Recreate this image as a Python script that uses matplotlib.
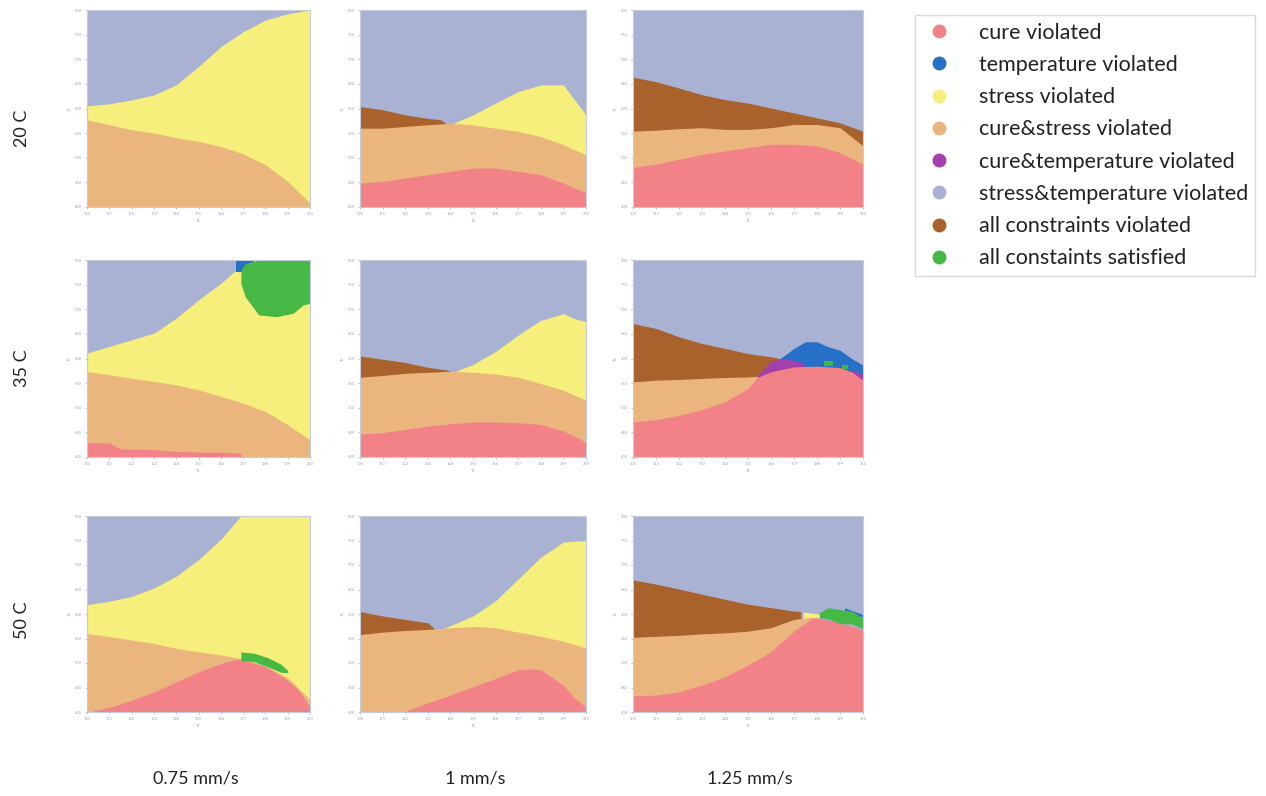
import matplotlib
matplotlib.use("Agg")
import matplotlib.pyplot as plt
from matplotlib.lines import Line2D

plt.rcParams['font.family'] = ['Lato', 'DejaVu Sans']

# category colours
colors = {
    'cure violated': '#F28287',
    'temperature violated': '#2670C8',
    'stress violated': '#F6EF7B',
    'cure&stress violated': '#EBB67D',
    'cure&temperature violated': '#A43FAE',
    'stress&temperature violated': '#A9B2D3',
    'all constraints violated': '#A9622B',
    'all constaints satisfied': '#45B845',
}
PINK, BLUE, YEL, TAN, PURP, LAV, BROWN, GRN = list(colors)

temps = ['20 C', '35 C', '50 C']
speeds = ['0.75 mm/s', '1 mm/s', '1.25 mm/s']
X = [0, 1, 2, 3, 4, 5, 6, 7, 8, 9, 10]

# boundaries (axis units: x 0..10, y 0..8)
# 20 C, 0.75 mm/s
a_yel = [4.11, 4.19, 4.35, 4.55, 4.96, 5.70, 6.51, 7.12, 7.59, 7.85, 8.0]
a_tan = [3.54, 3.34, 3.14, 3.0, 2.82, 2.66, 2.46, 2.16, 1.72, 1.04, 0.16]
# 20 C, 1 mm/s
b_yel_x = [4.1, 5, 6, 7, 8, 9, 9.5, 10]
b_yel = [3.39, 3.74, 4.22, 4.69, 4.96, 4.96, 4.35, 3.74]
b_brown_x = [0, 1, 2, 3, 3.6, 3.8]
b_brown = [4.08, 3.95, 3.74, 3.6, 3.54, 3.39]
b_tan = [3.2, 3.2, 3.27, 3.34, 3.4, 3.34, 3.2, 3.07, 2.86, 2.53, 2.12]
b_pink = [0.97, 1.04, 1.18, 1.31, 1.45, 1.58, 1.58, 1.45, 1.31, 0.97, 0.57]
# 20 C, 1.25 mm/s
c_brown = [5.27, 5.09, 4.83, 4.56, 4.36, 4.22, 4.02, 3.82, 3.62, 3.42, 3.08]
c_tan = [3.08, 3.12, 3.18, 3.22, 3.15, 3.15, 3.22, 3.35, 3.35, 3.22, 2.48]
c_pink = [1.61, 1.74, 1.94, 2.14, 2.28, 2.41, 2.55, 2.55, 2.48, 2.21, 1.74]
# 35 C, 0.75 mm/s
d_yel_x = [0, 1, 2, 3, 4, 5, 6, 6.7, 6.8, 10]
d_yel = [4.22, 4.49, 4.76, 5.03, 5.64, 6.38, 7.05, 7.6, 8, 8]
d_tan = [3.47, 3.34, 3.2, 3.07, 2.93, 2.73, 2.46, 2.19, 1.85, 1.31, 0.7]
d_pink_x = [0, 1, 1.5, 2, 3, 4, 5, 6, 6.9]
d_pink = [0.57, 0.57, 0.32, 0.32, 0.3, 0.23, 0.2, 0.2, 0.16]
d_blue_x = [6.7, 7.5]
d_blue_lo = [7.5, 7.5]
d_blue_hi = [8.0, 8.0]
d_grn_x = [6.9, 7.1, 7.7, 8.5, 9.25, 9.7, 10]
d_grn_lo = [7.05, 6.5, 5.77, 5.7, 5.84, 6.18, 6.24]
d_grn_hi = [7.6, 7.86, 8, 8, 8, 8, 8]
# 35 C, 1 mm/s
e_yel_x = [4.2, 5, 6, 7, 8, 9, 9.5, 10]
e_yel = [3.47, 3.76, 4.29, 4.95, 5.55, 5.82, 5.62, 5.49]
e_brown_x = [0, 1, 2, 3, 3.8, 4.0]
e_brown = [4.1, 3.97, 3.84, 3.64, 3.54, 3.48]
e_tan = [3.24, 3.31, 3.4, 3.44, 3.48, 3.44, 3.37, 3.24, 2.98, 2.71, 2.31]
e_pink = [0.93, 0.99, 1.12, 1.26, 1.35, 1.42, 1.42, 1.39, 1.32, 1.06, 0.6]
# 35 C, 1.25 mm/s
f_brown_x = [0, 1, 2, 3, 4, 5, 6, 6.4]
f_brown = [5.42, 5.22, 4.88, 4.61, 4.41, 4.2, 4.07, 4.0]
f_blue_x = [6.4, 7, 7.5, 8, 8.5, 9, 9.5, 10]
f_blue = [4.0, 4.41, 4.68, 4.68, 4.47, 4.34, 4.0, 3.73]
f_purp_x = [5.4, 6, 6.6, 7.3, 7.5]
f_purp = [3.3, 3.9, 4.0, 3.85, 3.7]
f_purp2_x = [9.5, 10]
f_purp2 = [3.55, 3.35]
f_tan_x = [0, 1, 2, 3, 4, 5, 5.4]
f_tan = [3.05, 3.12, 3.15, 3.19, 3.23, 3.25, 3.28]
f_pink_x = [0, 1, 2, 3, 4, 5, 5.4, 6, 7, 8, 9, 9.5, 10]
f_pink = [1.42, 1.52, 1.69, 1.93, 2.24, 2.78, 3.23, 3.46, 3.66, 3.69, 3.63, 3.46, 3.12]
f_grn1_x = [8.3, 8.7]
f_grn2_x = [9.1, 9.35]
# 50 C, 0.75 mm/s
g_yel_x = [0, 1, 2, 3, 4, 5, 6, 6.9, 10]
g_yel = [4.38, 4.52, 4.72, 5.06, 5.54, 6.22, 7.05, 8, 8]
g_tan = [3.21, 3.08, 2.94, 2.8, 2.6, 2.46, 2.33, 2.16, 1.9, 1.4, 0.5]
g_pink_x = [0.3, 1, 2, 3, 4, 5, 6, 6.7, 7, 8, 9, 9.5, 10]
g_pink = [0.07, 0.18, 0.48, 0.82, 1.23, 1.64, 1.98, 2.15, 2.12, 1.85, 1.3, 0.89, 0.2]
g_grn_x = [6.9, 7.5, 8.1, 8.7, 9.0]
g_grn_lo = [2.1, 2.05, 1.85, 1.62, 1.6]
g_grn_hi = [2.45, 2.40, 2.22, 1.95, 1.7]
# 50 C, 1 mm/s
h_yel_x = [3.7, 5, 6, 7, 8, 9, 10]
h_yel = [3.41, 3.92, 4.54, 5.43, 6.32, 6.94, 7.0]
h_brown_x = [0, 1, 2, 3, 3.1, 3.3]
h_brown = [4.1, 3.92, 3.78, 3.64, 3.57, 3.39]
h_tan = [3.16, 3.26, 3.33, 3.37, 3.44, 3.49, 3.44, 3.26, 3.09, 2.89, 2.61]
h_pink_x = [2.1, 3, 4, 5, 6, 7, 7.5, 8, 9, 9.5, 10]
h_pink = [0.07, 0.37, 0.69, 1.03, 1.37, 1.72, 1.76, 1.72, 1.1, 0.55, 0.2]
# 50 C, 1.25 mm/s
i_brown_x = [0, 1, 2, 3, 4, 5, 6, 7, 7.3]
i_brown = [5.39, 5.22, 5.02, 4.81, 4.6, 4.4, 4.26, 4.12, 4.1]
i_yel_x = [7.4, 8.1]
i_yel = [4.08, 4.0]
i_tan_x = [0, 1, 2, 3, 4, 5, 6, 7, 7.8]
i_tan = [3.05, 3.09, 3.13, 3.19, 3.23, 3.3, 3.44, 3.78, 3.88]
i_pink_x = [0, 1, 2, 3, 4, 5, 6, 7, 7.8, 8, 9, 10]
i_pink = [0.66, 0.69, 0.82, 1.1, 1.44, 1.92, 2.47, 3.3, 3.85, 3.85, 3.64, 3.37]
i_blue_x = [9.2, 10]
i_blue = [4.25, 3.98]
i_grn_x = [8.1, 8.5, 9, 9.5, 10]
i_grn_lo = [3.85, 3.8, 3.6, 3.6, 3.4]
i_grn_hi = [4.05, 4.26, 4.18, 4.12, 3.85]

# painting order per panel: (category, x, top, bottom)
panels = [
    [(YEL, X, a_yel, 0), (TAN, X, a_tan, 0)],
    [(YEL, b_yel_x, b_yel, 0), (BROWN, b_brown_x, b_brown, 0),
     (TAN, X, b_tan, 0), (PINK, X, b_pink, 0)],
    [(BROWN, X, c_brown, 0), (TAN, X, c_tan, 0), (PINK, X, c_pink, 0)],
    [(YEL, d_yel_x, d_yel, 0), (TAN, X, d_tan, 0), (PINK, d_pink_x, d_pink, 0),
     (BLUE, d_blue_x, d_blue_hi, d_blue_lo), (GRN, d_grn_x, d_grn_hi, d_grn_lo)],
    [(YEL, e_yel_x, e_yel, 0), (BROWN, e_brown_x, e_brown, 0),
     (TAN, X, e_tan, 0), (PINK, X, e_pink, 0)],
    [(BROWN, f_brown_x, f_brown, 0), (BLUE, f_blue_x, f_blue, 0),
     (PURP, f_purp_x, f_purp, 0), (PURP, f_purp2_x, f_purp2, 0),
     (TAN, f_tan_x, f_tan, 0), (PINK, f_pink_x, f_pink, 0),
     (GRN, f_grn1_x, [3.9, 3.9], [3.7, 3.7]),
     (GRN, f_grn2_x, [3.75, 3.75], [3.58, 3.58])],
    [(YEL, g_yel_x, g_yel, 0), (TAN, X, g_tan, 0), (PINK, g_pink_x, g_pink, 0),
     (GRN, g_grn_x, g_grn_hi, g_grn_lo)],
    [(YEL, h_yel_x, h_yel, 0), (BROWN, h_brown_x, h_brown, 0),
     (TAN, X, h_tan, 0), (PINK, h_pink_x, h_pink, 0)],
    [(BROWN, i_brown_x, i_brown, 0), (YEL, i_yel_x, i_yel, 0),
     (TAN, i_tan_x, i_tan, 0), (PINK, i_pink_x, i_pink, 0),
     (BLUE, i_blue_x, i_blue, 3.9), (GRN, i_grn_x, i_grn_hi, i_grn_lo)],
]

W, H = 1266, 796
fig = plt.figure(figsize=(W / 100, H / 100), dpi=100)

col_left = [87, 360, 633]
col_w = [223, 226, 230]
row_top = [10, 260, 516]
row_h = [197, 197, 196]

for r in range(3):
    for c in range(3):
        ax = fig.add_axes([col_left[c] / W, 1 - (row_top[r] + row_h[r]) / H,
                           col_w[c] / W, row_h[r] / H])
        ax.set_facecolor(colors[LAV])
        for cat, xs, top, bot in panels[r * 3 + c]:
            ax.fill_between(xs, bot, top, color=colors[cat], lw=0)
        ax.set_xlim(0, 10)
        ax.set_ylim(0, 8)
        ax.set_xticks(X)
        ax.set_xticklabels([str(v) for v in range(100, 211, 11)])
        ax.set_yticks(range(9))
        ax.set_yticklabels([str(v) for v in range(400, 850, 50)])
        ax.tick_params(labelsize=3, colors='#A0A8B8', length=1.5, width=0.5, pad=2)
        ax.set_xlabel('T1', fontsize=3, color='#A0A8B8', labelpad=2)
        ax.set_ylabel('T2', fontsize=3, color='#A0A8B8', labelpad=2)
        for s in ax.spines.values():
            s.set_color('#C3CCDC')
            s.set_linewidth(0.8)

row_centers = [128, 368, 620]
for t, yc in zip(temps, row_centers):
    fig.text(22 / W, 1 - yc / H, t, rotation=90, ha='center', va='center',
             fontsize=13, color='#222222')

col_centers = [196, 475, 750]
for s, xc in zip(speeds, col_centers):
    fig.text(xc / W, 1 - 778 / H, s, ha='center', va='center',
             fontsize=13, color='#222222')

handles = [Line2D([], [], marker='o', ls='', color=colors[k], markersize=9) for k in colors]
leg = fig.legend(handles, list(colors), loc='upper left',
                 bbox_to_anchor=(915 / W, 1 - 15 / H), borderaxespad=0,
                 fontsize=15.5, frameon=True, fancybox=False, edgecolor='#D0D0D0',
                 handletextpad=1.1, labelspacing=0.57, borderpad=0.35,
                 handlelength=1.5)
leg.get_frame().set_linewidth(1.0)
for t in leg.get_texts():
    t.set_color('#222222')

fig.savefig('out.png', dpi=100)
